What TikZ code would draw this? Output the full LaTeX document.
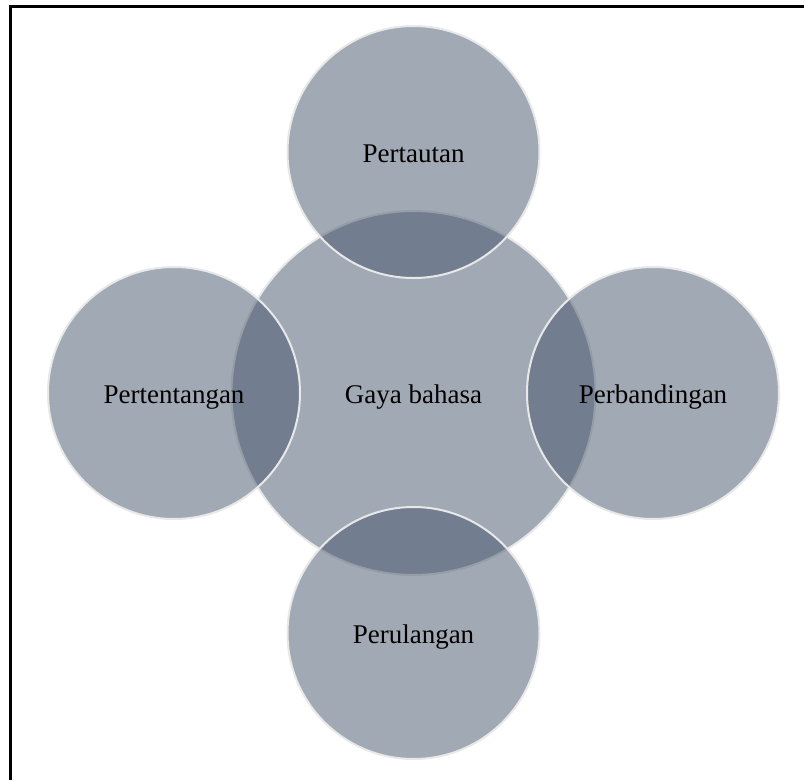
\documentclass[tikz,border=0pt]{standalone}
\usepackage{fontspec}
\setmainfont{Liberation Serif}
\definecolor{vennfill}{HTML}{44546A}
\definecolor{vennedge}{HTML}{E8E8E8}
\newcommand{\lowered}[1]{\raisebox{-10.5pt}[0pt][0pt]{#1}}
\begin{document}
\begin{tikzpicture}[x=1pt,y=-1pt,
  venn/.style={circle, inner sep=0pt, fill=vennfill, fill opacity=0.5, text opacity=1,
    draw=vennedge, draw opacity=1, line width=2pt, text=black,
    font=\fontsize{27}{32}\selectfont},
  big/.style={venn, minimum size=364pt},
  small/.style={venn, minimum size=252pt},
  frameline/.style={line width=3pt, black}]
\useasboundingbox (0,0) rectangle (804,780);
\draw[frameline] (10.5,780) -- (10.5,6) -- (804,6);
\node[big] (center) at (413.5,393) {\lowered{Gaya bahasa}};
\node[small] (top) at (413.5,152) {\lowered{Pertautan}};
\node[small] (right) at (653,393) {\lowered{Perbandingan}};
\node[small] (bottom) at (413.5,633) {\lowered{Perulangan}};
\node[small] (left) at (174,393) {\lowered{Pertentangan}};
\end{tikzpicture}
\end{document}
